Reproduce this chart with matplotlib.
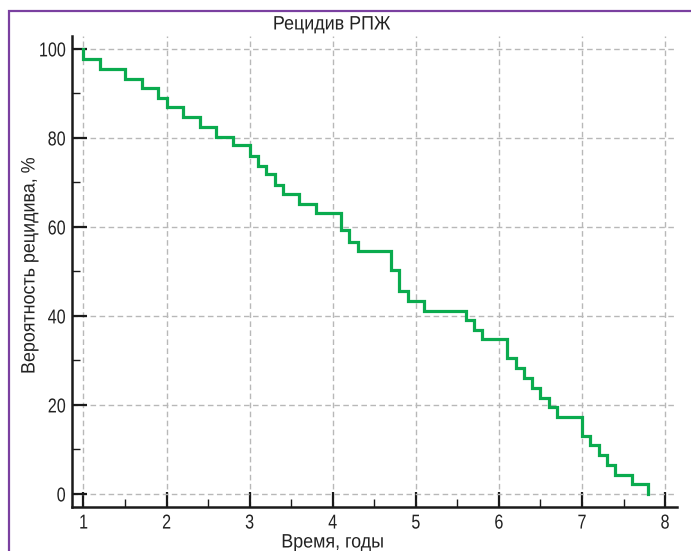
import matplotlib
matplotlib.use("Agg")
import matplotlib.pyplot as plt
from matplotlib.patches import Rectangle
from matplotlib.ticker import MultipleLocator
from matplotlib.patheffects import AbstractPathEffect
from matplotlib.transforms import Affine2D

plt.rcParams['font.family'] = ['Liberation Sans', 'DejaVu Sans']

title = "Рецидив РПЖ"
xlabel = "Время, годы"
ylabel = "Вероятность рецидива, %"

times = [1.0, 1.0, 1.2, 1.5, 1.7, 1.9, 2.0, 2.2, 2.4, 2.6, 2.8,
         3.0, 3.1, 3.2, 3.3, 3.4, 3.6, 3.8, 4.1, 4.2, 4.3, 4.7, 4.8, 4.9,
         5.1, 5.6, 5.7, 5.8, 6.1, 6.2, 6.3, 6.4, 6.5, 6.6, 6.7,
         7.0, 7.1, 7.2, 7.3, 7.4, 7.6, 7.8]
surv = [100, 97.8, 95.5, 93.3, 91.2, 88.9, 87.0, 84.7, 82.5, 80.3, 78.3,
        76.0, 73.8, 71.8, 69.4, 67.4, 65.2, 63.1, 59.3, 56.6, 54.5, 50.3, 45.5, 43.4,
        41.2, 39.1, 36.8, 34.8, 30.5, 28.2, 26.1, 23.9, 21.6, 19.6, 17.3,
        13.1, 11.0, 8.8, 6.5, 4.3, 2.3, 0]
xticks = [1, 2, 3, 4, 5, 6, 7, 8]
yticks = [0, 20, 40, 60, 80, 100]


class Condense(AbstractPathEffect):
    """Draw text horizontally condensed (narrow typeface look)."""
    def __init__(self, s, anchor='center', axis='x'):
        super().__init__()
        self.s, self.anchor, self.axis = s, anchor, axis

    def draw_path(self, renderer, gc, tpath, affine, rgbFace=None):
        ext = tpath.get_extents(affine)
        if self.axis == 'x':
            c = {'center': (ext.x0 + ext.x1) / 2, 'right': ext.x1, 'left': ext.x0}[self.anchor]
            t = Affine2D().translate(-c, 0).scale(self.s, 1).translate(c, 0)
        else:
            c = (ext.y0 + ext.y1) / 2
            t = Affine2D().translate(0, -c).scale(1, self.s).translate(0, c)
        renderer.draw_path(gc, tpath, affine + t, rgbFace)


W, H = 691, 551
fig = plt.figure(figsize=(W / 100, H / 100), dpi=100)
fig.patch.set_facecolor('white')

# figure frame (left and top edges visible)
fig.add_artist(Rectangle((9 / W, -0.1), 1.2, (H - 11) / H + 0.1, transform=fig.transFigure,
                         fill=False, edgecolor='#7a40a0', linewidth=1.6))

ax = fig.add_axes([72 / W, 1 - 507.3 / H, (676.7 - 72) / W, (507.3 - 36) / H])
ax.set_xlim(0.862, 8.14)
ax.set_ylim(-3.0, 102.9)

ax.grid(True, color='#b8b8b8', linestyle=(0, (4, 2.5)), linewidth=1.0)
ax.set_axisbelow(True)

ax.plot(times, surv, drawstyle='steps-post', color='#0aab4e', linewidth=2.3,
        solid_joinstyle='miter', zorder=3)

for s in ['top', 'right']:
    ax.spines[s].set_visible(False)
for s in ['left', 'bottom']:
    ax.spines[s].set_linewidth(1.8)
    ax.spines[s].set_color('#1a1a1a')

ax.set_xticks(xticks)
ax.set_yticks(yticks)
ax.xaxis.set_minor_locator(MultipleLocator(0.5))
ax.yaxis.set_minor_locator(MultipleLocator(10))
ax.tick_params(which='major', direction='in', length=11, width=1.6, color='#1a1a1a',
               labelsize=14.5, labelcolor='#222222')
ax.tick_params(axis='x', which='major', pad=4.5)
ax.tick_params(axis='y', which='major', pad=4.5)
ax.tick_params(which='minor', direction='in', length=5.5, width=1.0, color='#1a1a1a')

for lbl in ax.get_xticklabels():
    lbl.set_path_effects([Condense(0.8, 'center', 'x')])
for lbl in ax.get_yticklabels():
    lbl.set_path_effects([Condense(0.8, 'right', 'x')])

t1 = fig.text(332 / W, 1 - 25 / H, title, ha='center', va='center', fontsize=14, color='#222222')
t1.set_path_effects([Condense(0.92, 'center', 'x')])
t2 = fig.text(333 / W, 1 - 543 / H, xlabel, ha='center', va='center', fontsize=14, color='#222222')
t2.set_path_effects([Condense(0.92, 'center', 'x')])
t3 = fig.text(30 / W, 1 - 265 / H, ylabel, ha='center', va='center', rotation=90,
              fontsize=14, color='#222222')
t3.set_path_effects([Condense(0.92, 'center', 'y')])

fig.savefig('out.png', dpi=100)
